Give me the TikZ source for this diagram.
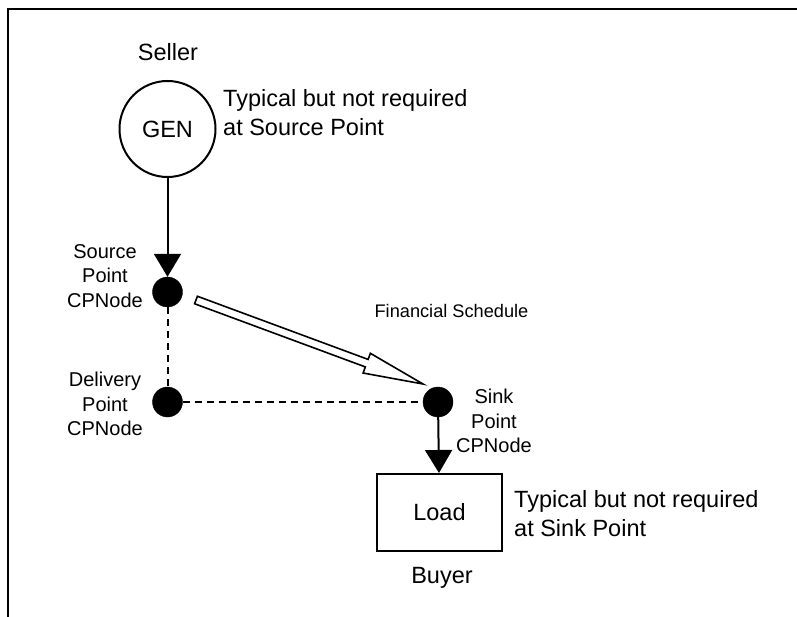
\documentclass[tikz,border=0pt]{standalone}
\usepackage{fontspec}
\setmainfont{Liberation Sans}
\usetikzlibrary{arrows.meta,calc}

\tikzset{
  frameline/.style={line width=2pt, line cap=rect},
  bigtxt/.style={inner sep=0pt, font=\fontsize{23.5}{29}\selectfont},
  smalltxt/.style={inner sep=0pt, align=center, font=\fontsize{20}{24.8}\selectfont},
  cpdot/.style={circle, fill=black, draw=black, minimum size=30pt, inner sep=0pt},
  flowline/.style={line width=2pt, -{Triangle[width=27pt,length=23pt]}},
  linkline/.style={line width=2pt, dash pattern=on 7pt off 5pt},
  hollowarrow/.style={line width=1.6pt, fill=white, line join=miter},
}

\begin{document}
\begin{tikzpicture}[x=1pt,y=-1pt]
  \useasboundingbox (0,0) rectangle (797,617);

  % frame: top and left edges only
  \draw[frameline] (797,9) -- (8,9) -- (8,617);

  % generator and its labels
  \node[bigtxt] (seller) at (168,52) {Seller};
  \node[circle, draw, line width=2pt, minimum size=96pt, inner sep=0pt, font=\fontsize{23.5}{29}\selectfont] (gen) at (167.5,129) {GEN};
  \node[bigtxt, align=left, anchor=west] (gennote) at (223,113) {Typical but not required\\at Source Point};

  % CPNode points
  \node[cpdot] (src) at (167.5,292) {};
  \node[cpdot] (del) at (167.5,402) {};
  \node[cpdot] (sink) at (438,402) {};

  \node[smalltxt] (srclbl) at (105,276) {Source\\Point\\CPNode};
  \node[smalltxt] (dellbl) at (105,404) {Delivery\\Point\\CPNode};
  \node[smalltxt] (sinklbl) at (494,421) {Sink\\Point\\CPNode};

  % load and its labels
  \node[draw, line width=2pt, minimum width=125pt, minimum height=77pt, inner sep=0pt, font=\fontsize{23.5}{29}\selectfont] (load) at (439.5,512.5) {Load};
  \node[bigtxt, align=left, anchor=west] (loadnote) at (514,514) {Typical but not required\\at Sink Point};
  \node[bigtxt] (buyer) at (442,578) {Buyer};

  % physical flow
  \draw[flowline] (gen) -- (src);
  \draw[flowline] (sink) -- (load);

  % delivery path
  \draw[linkline] (src) -- (del);
  \draw[linkline] (del) -- (sink);

  % financial schedule arrow
  \node[inner sep=0pt, font=\fontsize{18.2}{22}\selectfont] (fslbl) at (451.5,311) {Financial Schedule};
  \coordinate (fsTail) at (196,300);
  \coordinate (fsTip) at (423,384);
  \coordinate (fsBase) at ($(fsTip)!60pt!(fsTail)$);
  \draw[hollowarrow]
    ($(fsTail)!4pt!90:(fsTip)$) --
    ($(fsBase)!4pt!90:(fsTip)$) --
    ($(fsBase)!10.5pt!90:(fsTip)$) --
    (fsTip) --
    ($(fsBase)!10.5pt!-90:(fsTip)$) --
    ($(fsBase)!4pt!-90:(fsTip)$) --
    ($(fsTail)!4pt!-90:(fsTip)$) -- cycle;
\end{tikzpicture}
\end{document}
